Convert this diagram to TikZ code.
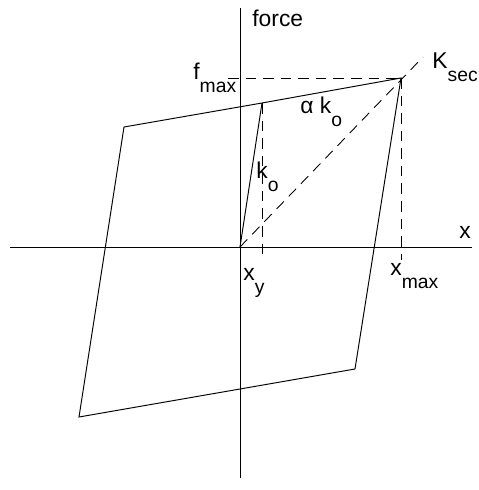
\documentclass[tikz,border=0pt]{standalone}
\usepackage{fontspec}
\setmainfont{Liberation Sans}
\newcommand{\lowsub}[1]{\raisebox{-7.5pt}{\fontsize{11}{13}\selectfont #1}}

\begin{document}
\begin{tikzpicture}[x=0.02cm,y=-0.02cm,font=\fontsize{13}{15}\selectfont]
  \tikzstyle{axis}=[line width=0.5pt]
  \tikzstyle{loop}=[line width=0.55pt, line join=miter]
  \tikzstyle{guide}=[line width=0.5pt, dash pattern=on 6pt off 4pt]
  \tikzstyle{lbl}=[inner sep=0pt, anchor=base west]

  \path[use as bounding box] (0,0) rectangle (478,490);

  % points of the loop
  \coordinate (origin) at (240,247);
  \coordinate (yield) at (262,103);
  \coordinate (peak) at (401,78);
  \coordinate (upleft) at (124,127);
  \coordinate (lowleft) at (79,417);
  \coordinate (lowright) at (355,369);

  % axes
  \coordinate (xaxisw) at (10,247);
  \coordinate (xaxise) at (472,247);
  \coordinate (yaxisn) at (240,8);
  \coordinate (yaxiss) at (240,478);
  \draw[axis] (xaxisw) -- (xaxise);
  \draw[axis] (yaxisn) -- (yaxiss);

  % hysteresis loop
  \draw[loop] (origin) -- (yield) -- (peak) -- (lowright) -- (lowleft) -- (upleft) -- (yield);

  % guide lines
  \coordinate (fmaxend) at (228,78);
  \coordinate (xyfoot) at (262,257);
  \coordinate (xmaxfoot) at (401,260);
  \coordinate (secend) at (423,57);
  \draw[guide] (fmaxend) -- (peak);
  \draw[guide] (yield) -- (xyfoot);
  \draw[guide] (peak) -- (xmaxfoot);
  \draw[guide] (origin) -- (secend);

  % labels
  \node[lbl] (force) at (252,27) {force};
  \node[lbl] (xlabel) at (459,238) {x};
  \node[lbl] (fmax) at (193,79) {f\lowsub{max}};
  \node[lbl] (ksec) at (432,68) {K\lowsub{sec}};
  \node[lbl] (alphak) at (300,113) {α k\lowsub{o}};
  \node[lbl] (kzero) at (256,178) {k\lowsub{o}};
  \node[lbl] (xy) at (243,280) {x\lowsub{y}};
  \node[lbl] (xmax) at (390,275) {x\lowsub{max}};
\end{tikzpicture}
\end{document}
